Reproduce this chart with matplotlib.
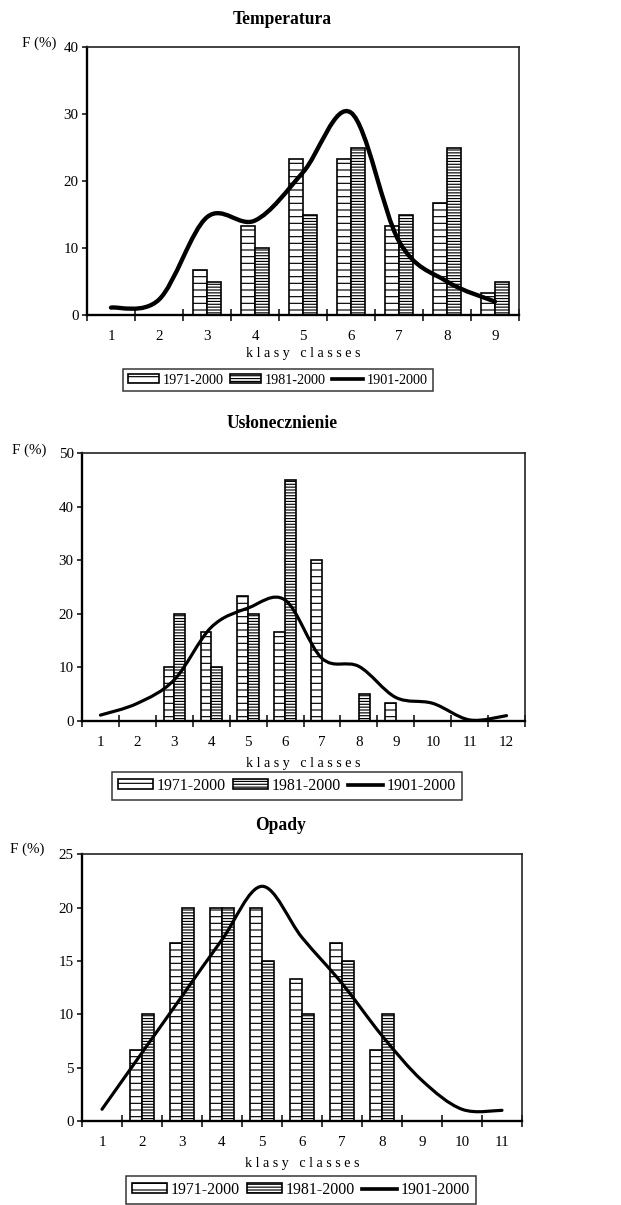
import numpy as np
import matplotlib
matplotlib.use('Agg')
import matplotlib.pyplot as plt
from matplotlib.path import Path
from matplotlib.patches import PathPatch, Patch
from matplotlib.lines import Line2D

# ------------------------------------------------------------
# dane
# ------------------------------------------------------------
temp_klasy = [1, 2, 3, 4, 5, 6, 7, 8, 9]
temp_1971 = [0, 0, 6.7, 13.3, 23.3, 23.3, 13.3, 16.7, 3.3]
temp_1981 = [0, 0, 5, 10, 15, 25, 15, 25, 5]
temp_1901 = [1.1, 2.3, 14.6, 14.1, 21.3, 30.2, 11.0, 5.0, 2.0]

slon_klasy = [1, 2, 3, 4, 5, 6, 7, 8, 9, 10, 11, 12]
slon_1971 = [0, 0, 10, 16.7, 23.3, 16.7, 30, 0, 3.3, 0, 0, 0]
slon_1981 = [0, 0, 20, 10, 20, 45, 0, 5, 0, 0, 0, 0]
slon_1901 = [1.1, 3.3, 7.7, 17.5, 21.1, 22.6, 11.7, 10.2, 4.4, 3.3, 0.2, 1.0]

opady_klasy = [1, 2, 3, 4, 5, 6, 7, 8, 9, 10, 11]
opady_1971 = [0, 6.7, 16.7, 20, 20, 13.3, 16.7, 6.7, 0, 0, 0]
opady_1981 = [0, 10, 20, 20, 15, 10, 15, 10, 0, 0, 0]
opady_1901 = [1.1, 6.4, 11.7, 17.0, 22.0, 17.2, 12.9, 8.0, 3.8, 1.1, 1.0]

serie = ['1971-2000', '1981-2000', '1901-2000']

# ------------------------------------------------------------
# ustawienia
# ------------------------------------------------------------
W, H, DPI = 621, 1205, 120
plt.rcParams['font.family'] = ['Liberation Serif', 'DejaVu Serif']
plt.rcParams['hatch.linewidth'] = 0.7

HATCH_71 = '---'
HATCH_81 = '-------'
BAR_W = 0.29

fig = plt.figure(figsize=(W / DPI, H / DPI), dpi=DPI)
fig.patch.set_facecolor('white')


def fx(px):
    return px / W


def fy(py):
    return 1 - py / H


def smooth_path(x, y):
    # wygladzona linia jak w Excelu (krzywe Beziera przez punkty)
    pts = np.column_stack([x, y]).astype(float)
    ext = np.vstack([pts[0], pts, pts[-1]])
    verts = [pts[0]]
    codes = [Path.MOVETO]
    for i in range(len(pts) - 1):
        c1 = pts[i] + (ext[i + 2] - ext[i]) / 6
        c2 = pts[i + 1] - (ext[i + 3] - ext[i + 1]) / 6
        verts += [c1, c2, pts[i + 1]]
        codes += [Path.CURVE4] * 3
    return Path(verts, codes)


def panel(box, title, klasy, v71, v81, v01, ymax, ystep, title_xy, f_xy,
          klasy_y, leg_xy, leg_fs, line_w):
    left, right, top, bottom = box
    ax = fig.add_axes([fx(left), fy(bottom), fx(right - left), (bottom - top) / H])
    x = np.array(klasy, dtype=float)
    ax.bar(x - BAR_W / 2, v71, width=BAR_W, facecolor='white', edgecolor='black',
           hatch=HATCH_71, linewidth=1.0)
    ax.bar(x + BAR_W / 2, v81, width=BAR_W, facecolor='white', edgecolor='black',
           hatch=HATCH_81, linewidth=1.0)
    ax.add_patch(PathPatch(smooth_path(x, v01), fill=False, edgecolor='black',
                           linewidth=line_w, capstyle='round', zorder=3))

    n = len(klasy)
    ax.set_xlim(0.5, n + 0.5)
    ax.set_ylim(0, ymax)
    ax.set_yticks(np.arange(0, ymax + 0.1, ystep))
    ax.set_xticks(np.arange(0.5, n + 1, 1))
    ax.set_xticklabels([])
    ax.set_xticks(x, [str(k) for k in klasy], minor=True)
    ax.tick_params(axis='x', which='major', direction='inout', length=7, width=0.9)
    ax.tick_params(axis='x', which='minor', length=0, pad=9, labelsize=9)
    ax.tick_params(axis='y', direction='out', length=3, width=0.9, pad=2, labelsize=9)

    for s in ['left', 'bottom']:
        ax.spines[s].set_linewidth(1.4)
        ax.spines[s].set_color('black')
    for s in ['top', 'right']:
        ax.spines[s].set_linewidth(1.0)
        ax.spines[s].set_color('#222222')

    fig.text(fx(title_xy[0]), fy(title_xy[1]), title, ha='center', va='center',
             fontsize=10.5, fontweight='bold')
    fig.text(fx(f_xy[0]), fy(f_xy[1]), 'F (%)', ha='left', va='center', fontsize=9)
    fig.text(fx((left + right) / 2), fy(klasy_y), 'k l a s y   c l a s s e s',
             ha='center', va='center', fontsize=8.5)

    handles = [Patch(facecolor='white', edgecolor='black', hatch=HATCH_71),
               Patch(facecolor='white', edgecolor='black', hatch=HATCH_81),
               Line2D([], [], color='black', linewidth=2.2)]
    leg = fig.legend(handles, serie, loc='center', ncol=3,
                     bbox_to_anchor=(fx(leg_xy[0]), fy(leg_xy[1])),
                     fontsize=leg_fs, frameon=True, fancybox=False,
                     edgecolor='black', borderpad=0.35, handlelength=2.2,
                     handleheight=0.6, handletextpad=0.25, columnspacing=0.45,
                     borderaxespad=0)
    leg.get_frame().set_linewidth(0.9)
    return ax


panel((87, 519, 47, 315), 'Temperatura', temp_klasy, temp_1971, temp_1981,
      temp_1901, 40, 10, (282, 20), (22, 43), 353, (278, 380), 8.5, 2.6)

panel((82, 525, 453.3, 721), 'Usłonecznienie', slon_klasy, slon_1971, slon_1981,
      slon_1901, 50, 10, (282, 423), (12, 450), 763, (287, 786), 9.5, 1.9)

panel((82, 522, 854.3, 1121), 'Opady', opady_klasy, opady_1971, opady_1981,
      opady_1901, 25, 5, (281, 825), (10, 849), 1163, (301, 1190), 9.5, 1.9)

fig.savefig('out.png', dpi=DPI)
